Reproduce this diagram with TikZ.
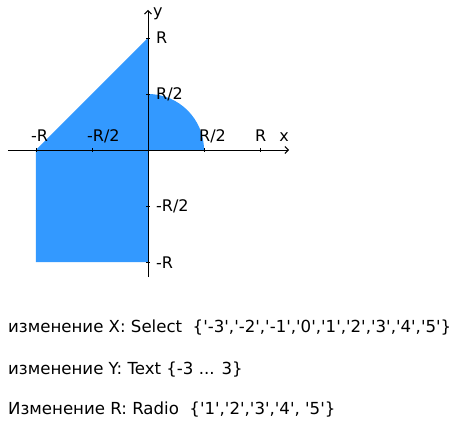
\documentclass[tikz,border=0pt]{standalone}
\usepackage{fontspec}
\setmainfont{DejaVu Sans}[Ligatures=TeXOff]
\usetikzlibrary{arrows.meta,positioning}
\definecolor{areablue}{RGB}{51,153,255}
\newcommand{\xtick}[2]{%
  \draw (#1,2)--(#1,-2);
  \node[lbl,anchor=base west,xshift=-5] (xt#2) at (#1,8) {#2};
}
\newcommand{\ytick}[2]{%
  \draw (-2,#1)--(2,#1);
  \node[lbl,anchor=base west] (yt#2) at (8,#1-6) {#2};
}

\begin{document}
\begin{tikzpicture}[x=1pt,y=1pt,font=\fontsize{16}{19}\selectfont,
  lbl/.style={inner sep=0pt},
  axis/.style={line width=.9pt,-{Straight Barb[length=3.5pt,width=7pt]}},
  line/.style={anchor=base west,inner sep=0pt,font=\fontsize{16.6}{20}\selectfont}]
    \useasboundingbox (-148,150) rectangle (314,-272);
    \def\R{112}
    % area
    \fill[areablue] (-\R,0) -- (0,\R) -- (0,\R/2) arc[start angle=90,end angle=0,radius=\R/2]
      -- (0,0) -- (0,-\R) -- (-\R,-\R) -- cycle;
    % axes
    \coordinate (xl) at (-140,0);
    \coordinate (xr) at (141,0);
    \coordinate (yb) at (0,-127);
    \coordinate (yt) at (0,140);
    \draw[axis] (xl) -- (xr);
    \draw[axis] (yb) -- (yt);
    \node[lbl,anchor=base] (xname) at (136,8) {x};
    \node[lbl,anchor=base west] (yname) at (5,133) {y};
    \xtick{-112}{-R}
    \xtick{-56}{-R/2}
    \xtick{56}{R/2}
    \xtick{112}{R}
    \ytick{112}{R}
    \ytick{56}{R/2}
    \ytick{-56}{-R/2}
    \ytick{-112}{-R}
    % text
    \node[line] (selx) at (-140,-182) {изменение X: Select \ \{'-3','-2','-1','0','1','2','3','4','5'\}};
    \node[line] (texty) at (-140,-224) {изменение Y: Text \{-3 ... 3\}};
    \node[line] (radr) at (-140,-264) {Изменение R: Radio \ \{'1','2','3','4', '5'\}};
  \end{tikzpicture}
\end{document}
